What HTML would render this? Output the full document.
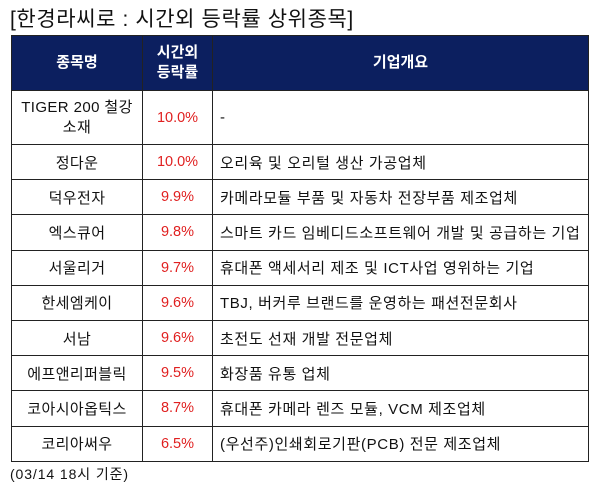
<!DOCTYPE html>
<html><head><meta charset="utf-8"><style>
body{margin:0;width:600px;height:492px;background:#fff;font-family:"Liberation Sans","Noto Sans CJK KR",sans-serif;position:relative;overflow:hidden}
.t{position:absolute;left:10px;top:3px;font-size:21px;color:#111;white-space:nowrap;letter-spacing:0.6px}
table{position:absolute;left:11px;top:35px;border-collapse:collapse;table-layout:fixed;width:578px}
td,th{border:1px solid #222;font-size:15px;color:#111;padding:0;letter-spacing:0.4px;white-space:nowrap}
th{background:#0c1f5f;color:#fff;height:54px;font-weight:bold;line-height:20px;letter-spacing:0}
td{height:34.2px;text-align:center}
td.r{color:#e02020;font-size:14.5px;letter-spacing:0}
td.d{text-align:left;padding-left:7px;letter-spacing:0.62px}
.f{position:absolute;left:10px;top:464px;font-size:14px;color:#111;letter-spacing:0.9px}
</style></head><body>
<div class="t">[한경라씨로 : 시간외 등락률 상위종목]</div>
<table>
<col style="width:131px"><col style="width:70px"><col>
<tr><th>종목명</th><th>시간외<br>등락률</th><th>기업개요</th></tr>
<tr><td style="height:53px;line-height:20px">TIGER 200 철강<br>소재</td><td class="r">10.0%</td><td class="d">-</td></tr>
<tr><td>정다운</td><td class="r">10.0%</td><td class="d">오리육 및 오리털 생산 가공업체</td></tr>
<tr><td>덕우전자</td><td class="r">9.9%</td><td class="d">카메라모듈 부품 및 자동차 전장부품 제조업체</td></tr>
<tr><td>엑스큐어</td><td class="r">9.8%</td><td class="d">스마트 카드 임베디드소프트웨어 개발 및 공급하는 기업</td></tr>
<tr><td>서울리거</td><td class="r">9.7%</td><td class="d">휴대폰 액세서리 제조 및 ICT사업 영위하는 기업</td></tr>
<tr><td>한세엠케이</td><td class="r">9.6%</td><td class="d">TBJ, 버커루 브랜드를 운영하는 패션전문회사</td></tr>
<tr><td>서남</td><td class="r">9.6%</td><td class="d">초전도 선재 개발 전문업체</td></tr>
<tr><td>에프앤리퍼블릭</td><td class="r">9.5%</td><td class="d">화장품 유통 업체</td></tr>
<tr><td>코아시아옵틱스</td><td class="r">8.7%</td><td class="d">휴대폰 카메라 렌즈 모듈, VCM 제조업체</td></tr>
<tr><td>코리아써우</td><td class="r">6.5%</td><td class="d">(우선주)인쇄회로기판(PCB) 전문 제조업체</td></tr>
</table>
<div class="f">(03/14 18시 기준)</div>
</body></html>
